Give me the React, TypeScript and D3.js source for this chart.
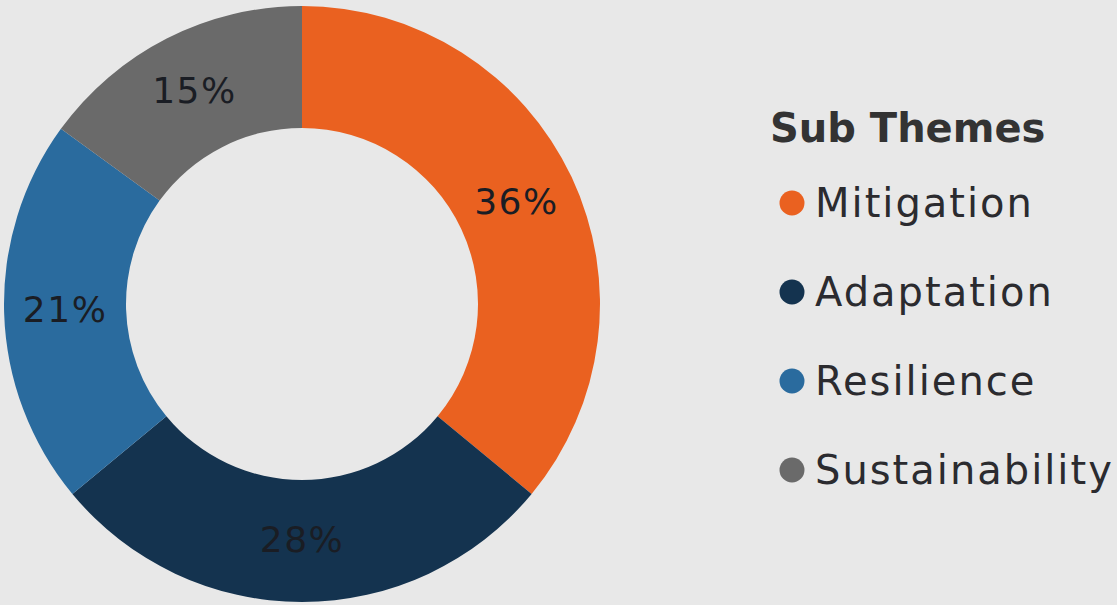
import React from 'react';
import * as d3 from 'd3';

const themes = ['Mitigation', 'Adaptation', 'Resilience', 'Sustainability'];
const shares = [36, 28, 21, 15];
const colors = ['#ea6120', '#14334f', '#2a6b9e', '#6a6a6a'];
const legendTitle = 'Sub Themes';

const width = 1117;
const height = 605;
const cx = 302;
const cy = 304;
const outerR = 298;
const innerR = 176;

export default function App() {
    const data = themes.map((t, i) => ({ theme: t, value: shares[i], color: colors[i] }));

    const pie = d3.pie<any>()
        .sort(null)
        .value(d => d.value)
        .startAngle(0)
        .endAngle(2 * Math.PI);

    const arc = d3.arc<any>()
        .innerRadius(innerR)
        .outerRadius(outerR);

    const arcs = pie(data);

    const legendY = d3.scalePoint<string>()
        .domain(themes)
        .range([203, 470]);

    return (
        <svg width={width} height={height}
            style={{ position: 'absolute', left: 0, top: 0, display: 'block' }}>
            <rect width={width} height={height} fill="#e8e8e8" />
            <g transform={`translate(${cx},${cy})`}>
                {arcs.map(a => (
                    <path key={a.data.theme} d={arc(a) as string} fill={a.data.color} />
                ))}
                {arcs.map(a => {
                    const [x, y] = arc.centroid(a);
                    return (
                        <text key={a.data.theme + '-l'} x={x} y={y - 2}
                            textAnchor="middle" dominantBaseline="central"
                            fontFamily="DejaVu Sans" fontSize={36} letterSpacing={1.5}
                            fill="#1a1d24">
                            {a.data.value}%
                        </text>
                    );
                })}
            </g>
            <g fontFamily="DejaVu Sans">
                <text x={770} y={142} fontSize={40} fontWeight="bold" fill="#333333">
                    {legendTitle}
                </text>
                {data.map(d => (
                    <g key={d.theme} transform={`translate(0,${legendY(d.theme)})`}>
                        <circle cx={792} cy={0} r={12.5} fill={d.color} />
                        <text x={815} y={0} dy="0.36em" fontSize={40} letterSpacing={2}
                            fill="#2b2b2f">
                            {d.theme}
                        </text>
                    </g>
                ))}
            </g>
        </svg>
    );
}
